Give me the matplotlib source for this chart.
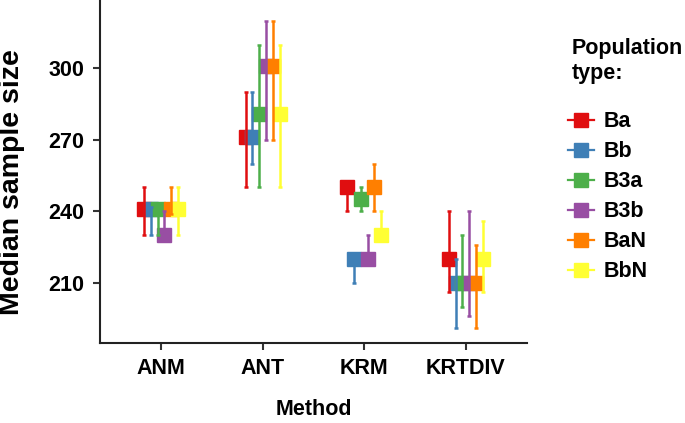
import matplotlib.pyplot as plt
from matplotlib.lines import Line2D
import numpy as np

plt.rcParams['font.family'] = ['Liberation Sans', 'DejaVu Sans']
plt.rcParams['font.weight'] = 'bold'

##### Data #####
methods = ["ANM", "ANT", "KRM", "KRTDIV"]
pop_types = ["Ba", "Bb", "B3a", "B3b", "BaN", "BbN"]
colors = ["#E00E10", "#3F7FB6", "#4DAF4A", "#984EA3", "#FF7F00", "#FFFF33"]

# median, lower and upper values per population type (ANM, ANT, KRM, KRTDIV)
ba_med = [241, 271, 250, 220]
ba_low = [230, 250, 240, 206]
ba_high = [250, 290, 252, 240]

bb_med = [241, 271, 220, 210]
bb_low = [230, 260, 210, 191]
bb_high = [242, 290, 222, 220]

b3a_med = [241, 281, 245, 210]
b3a_low = [230, 250, 240, 200]
b3a_high = [243, 310, 250, 230]

b3b_med = [230, 301, 220, 210]
b3b_low = [228, 270, 218, 196]
b3b_high = [240, 320, 230, 240]

ban_med = [241, 301, 250, 210]
ban_low = [239, 270, 240, 191]
ban_high = [250, 320, 260, 226]

bbn_med = [241, 281, 230, 220]
bbn_low = [230, 250, 228, 206]
bbn_high = [250, 310, 240, 236]

medians = [ba_med, bb_med, b3a_med, b3b_med, ban_med, bbn_med]
lows = [ba_low, bb_low, b3a_low, b3b_low, ban_low, bbn_low]
highs = [ba_high, bb_high, b3a_high, b3b_high, ban_high, bbn_high]

##### Plotting #####
fig = plt.figure(figsize=(6.85, 4.23), dpi=100)
ax = fig.add_axes([0.146, 0.189, 0.623, 0.811])

x = np.arange(1, len(methods) + 1)
dodge = 0.4
n = len(pop_types)

for i, name in enumerate(pop_types):
    offset = -dodge / 2 + dodge / n * (i + 0.5)
    xs = x + offset
    med = np.array(medians[i])
    yerr = [med - np.array(lows[i]), np.array(highs[i]) - med]
    # squares first, error bars drawn on top
    ax.plot(xs, med, linestyle="none", marker="s", markersize=10,
            color=colors[i], zorder=2 + i * 0.01)
    ax.errorbar(xs, med, yerr=yerr, fmt="none", ecolor=colors[i],
                elinewidth=1.8, capsize=1.2, capthick=1.8, zorder=3 + i * 0.01)

ax.set_xlim(0.4, 4.6)
ax.set_ylim(184.7, 328.7)
ax.set_xticks(x)
ax.set_xticklabels(methods, fontsize=15.5, fontweight="bold")
ax.set_yticks([210, 240, 270, 300])
ax.set_yticklabels(["210", "240", "270", "300"], fontsize=15.5, fontweight="bold")
ax.tick_params(axis="both", length=5, width=1.5, color="#333333", pad=6)

for side in ["top", "right"]:
    ax.spines[side].set_visible(False)
for side in ["left", "bottom"]:
    ax.spines[side].set_linewidth(1.5)
    ax.spines[side].set_color("#222222")

ax.set_xlabel("Method", fontsize=15.5, fontweight="bold", labelpad=14)
ax.set_ylabel("Median sample size", fontsize=20.5, fontweight="bold")
ax.yaxis.set_label_coords(-0.176, 0.47)

# legend title as separate text, keys: square with a horizontal line through it
fig.text(0.835, 0.91, "Population\ntype:", fontsize=15.5, fontweight="bold",
         va="top", ha="left", linespacing=1.25)
handles = [Line2D([0], [0], color=c, marker="s", markersize=10, linewidth=1.6)
           for c in colors]
leg = fig.legend(handles, pop_types, loc="upper left", bbox_to_anchor=(0.801, 0.783),
                 frameon=False, fontsize=15.5, handlelength=1.2, labelspacing=0.42,
                 handletextpad=0.45)

plt.savefig("out.png", dpi=100)
